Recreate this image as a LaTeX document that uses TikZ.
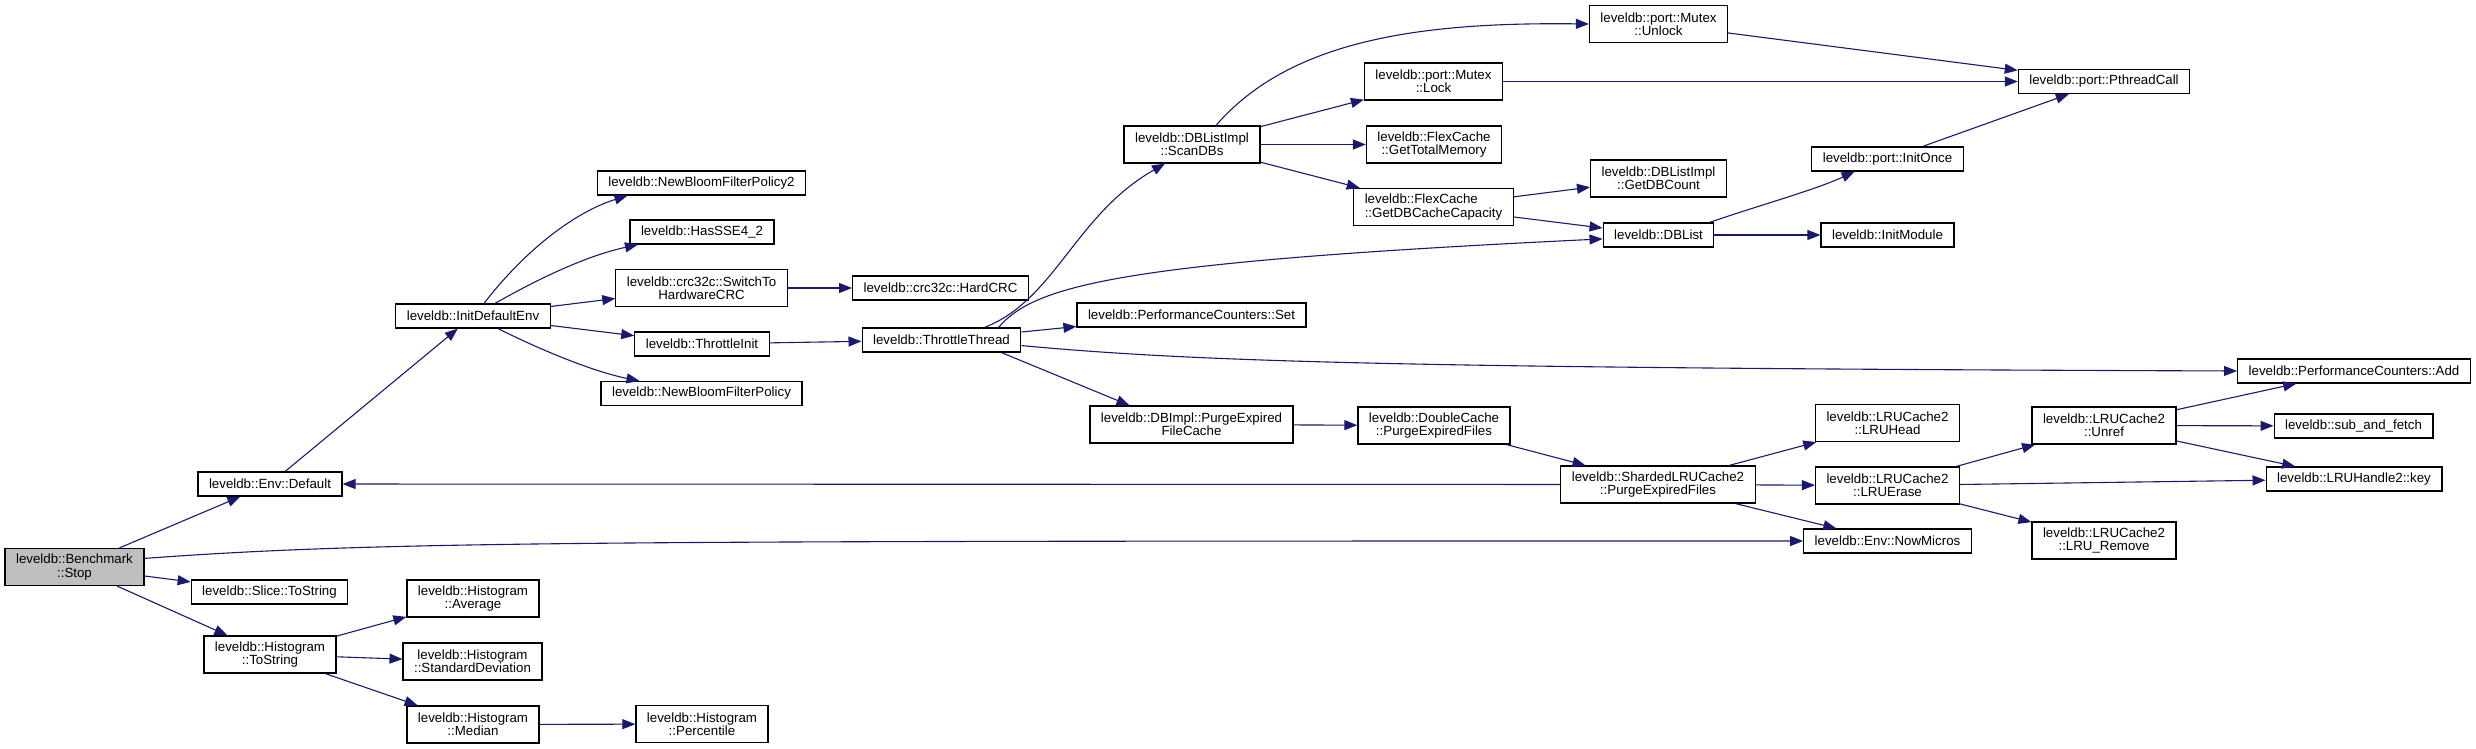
\documentclass[tikz,border=0pt]{standalone}
\usepackage{fontspec}
\setmainfont{Liberation Sans}
\usepackage{xcolor}
\usepackage{tikz}
\usetikzlibrary{arrows.meta}

\definecolor{edgeblue}{RGB}{25,25,112}
\definecolor{rootgray}{RGB}{191,191,191}

\begin{document}
\begin{tikzpicture}[x=1pt,y=-1pt,font=\fontsize{13.3}{13.3}\selectfont,
  fn/.style={draw=black,line width=1.2pt,fill=white,inner xsep=11pt,inner ysep=0pt,minimum height=24pt,align=center},
  fn2/.style={fn,minimum height=37pt},
  call/.style={draw=edgeblue,line width=1.1pt,-{Triangle[length=13pt,width=10pt]}}]
\useasboundingbox (0,0) rectangle (2476,749);
\node[fn2,fill=rootgray] (stop) at (74.5,567) {leveldb::Benchmark\\::Stop};
\node[fn] (envdefault) at (270,484) {leveldb::Env::Default};
\node[fn] (slicetostring) at (269.5,592) {leveldb::Slice::ToString};
\node[fn2] (histtostring) at (270,654.5) {leveldb::Histogram\\::ToString};
\node[fn2] (average) at (473,598.5) {leveldb::Histogram\\::Average};
\node[fn2] (stddev) at (472.5,661.5) {leveldb::Histogram\\::StandardDeviation};
\node[fn2] (median) at (473,724.5) {leveldb::Histogram\\::Median};
\node[fn2] (percentile) at (702,724) {leveldb::Histogram\\::Percentile};
\node[fn] (initdefaultenv) at (473,316) {leveldb::InitDefaultEnv};
\node[fn] (bloom2) at (701.5,183) {leveldb::NewBloomFilterPolicy2};
\node[fn] (hassse) at (702,232) {leveldb::HasSSE4\_2};
\node[fn2] (switchhw) at (701.5,288) {leveldb::crc32c::SwitchTo\\HardwareCRC};
\node[fn] (throttleinit) at (702,344) {leveldb::ThrottleInit};
\node[fn] (bloom) at (701.5,393.5) {leveldb::NewBloomFilterPolicy};
\node[fn] (hardcrc) at (940.5,288) {leveldb::crc32c::HardCRC};
\node[fn] (throttlethread) at (941.5,340) {leveldb::ThrottleThread};
\node[fn2] (scandbs) at (1192,144.5) {leveldb::DBListImpl\\::ScanDBs};
\node[fn] (perfset) at (1191.5,315) {leveldb::PerformanceCounters::Set};
\node[fn2] (purgecache) at (1191.5,424.5) {leveldb::DBImpl::PurgeExpired\\FileCache};
\node[fn2] (unlock) at (1658.5,24) {leveldb::port::Mutex\\::Unlock};
\node[fn2] (lock) at (1433.5,81.5) {leveldb::port::Mutex\\::Lock};
\node[fn2] (totalmem) at (1434,144.5) {leveldb::FlexCache\\::GetTotalMemory};
\node[fn2,align=left] (dbcachecap) at (1433.5,207) {leveldb::FlexCache\\::GetDBCacheCapacity};
\node[fn2] (doublepurge) at (1434,425.5) {leveldb::DoubleCache\\::PurgeExpiredFiles};
\node[fn2] (dbcount) at (1658.5,178.5) {leveldb::DBListImpl\\::GetDBCount};
\node[fn] (dblist) at (1658.5,235) {leveldb::DBList};
\node[fn2] (shardedpurge) at (1658,484.5) {leveldb::ShardedLRUCache2\\::PurgeExpiredFiles};
\node[fn] (initonce) at (1887.5,159) {leveldb::port::InitOnce};
\node[fn] (initmodule) at (1887.5,235) {leveldb::InitModule};
\node[fn2] (lruhead) at (1887.5,423) {leveldb::LRUCache2\\::LRUHead};
\node[fn2] (lruerase) at (1887.5,485.5) {leveldb::LRUCache2\\::LRUErase};
\node[fn] (nowmicros) at (1887.5,541) {leveldb::Env::NowMicros};
\node[fn] (pthreadcall) at (2104,81.5) {leveldb::port::PthreadCall};
\node[fn2] (unref) at (2104,425.5) {leveldb::LRUCache2\\::Unref};
\node[fn2] (lruremove) at (2104,540.5) {leveldb::LRUCache2\\::LRU\_Remove};
\node[fn] (perfadd) at (2354,371) {leveldb::PerformanceCounters::Add};
\node[fn] (subfetch) at (2353.5,426) {leveldb::sub\_and\_fetch};
\node[fn] (handlekey) at (2354,479) {leveldb::LRUHandle2::key};
\foreach \a/\b in {stop/envdefault,stop/slicetostring,stop/histtostring,envdefault/initdefaultenv,
  histtostring/average,histtostring/stddev,histtostring/median,median/percentile,
  initdefaultenv/switchhw,initdefaultenv/throttleinit,switchhw/hardcrc,throttleinit/throttlethread,
  throttlethread/perfset,scandbs/lock,scandbs/totalmem,scandbs/dbcachecap,unlock/pthreadcall,
  lock/pthreadcall,dbcachecap/dbcount,dbcachecap/dblist,dblist/initmodule,initonce/pthreadcall,
  purgecache/doublepurge,doublepurge/shardedpurge,shardedpurge/envdefault,shardedpurge/lruhead,
  shardedpurge/lruerase,shardedpurge/nowmicros,lruerase/unref,lruerase/handlekey,lruerase/lruremove,
  unref/perfadd,unref/subfetch,unref/handlekey}
  \draw[call] (\a) -- (\b);
\draw[call] (stop.7) .. controls (380,541) and (600,541) .. (nowmicros.west);
\draw[call] ([xshift=11pt]initdefaultenv.north) .. controls (525,250) and (575,212) .. ([xshift=-74pt]bloom2.south);
\draw[call] ([xshift=22pt]initdefaultenv.north) .. controls (545,275) and (590,255) .. ([xshift=-64pt]hassse.south);
\draw[call] ([xshift=25pt]initdefaultenv.south) .. controls (545,352) and (595,372) .. ([xshift=-62pt]bloom.north);
\draw[call] ([xshift=43pt]throttlethread.north) .. controls (1055,300) and (1075,215) .. ([xshift=-27pt]scandbs.south);
\draw[call] ([xshift=57pt]throttlethread.north) .. controls (1035,285) and (1120,262) .. (dblist.184);
\draw[call] (throttlethread.-4) .. controls (1200,362) and (1400,368) .. (perfadd.west);
\draw[call] ([xshift=60pt]throttlethread.south) -- ([xshift=-62pt]purgecache.north);
\draw[call] ([xshift=24pt]scandbs.north) .. controls (1290,40) and (1420,22) .. (unlock.west);
\draw[call] ([xshift=51pt]dblist.north) .. controls (1760,205) and (1815,190) .. ([xshift=-33pt]initonce.south);
\end{tikzpicture}
\end{document}
